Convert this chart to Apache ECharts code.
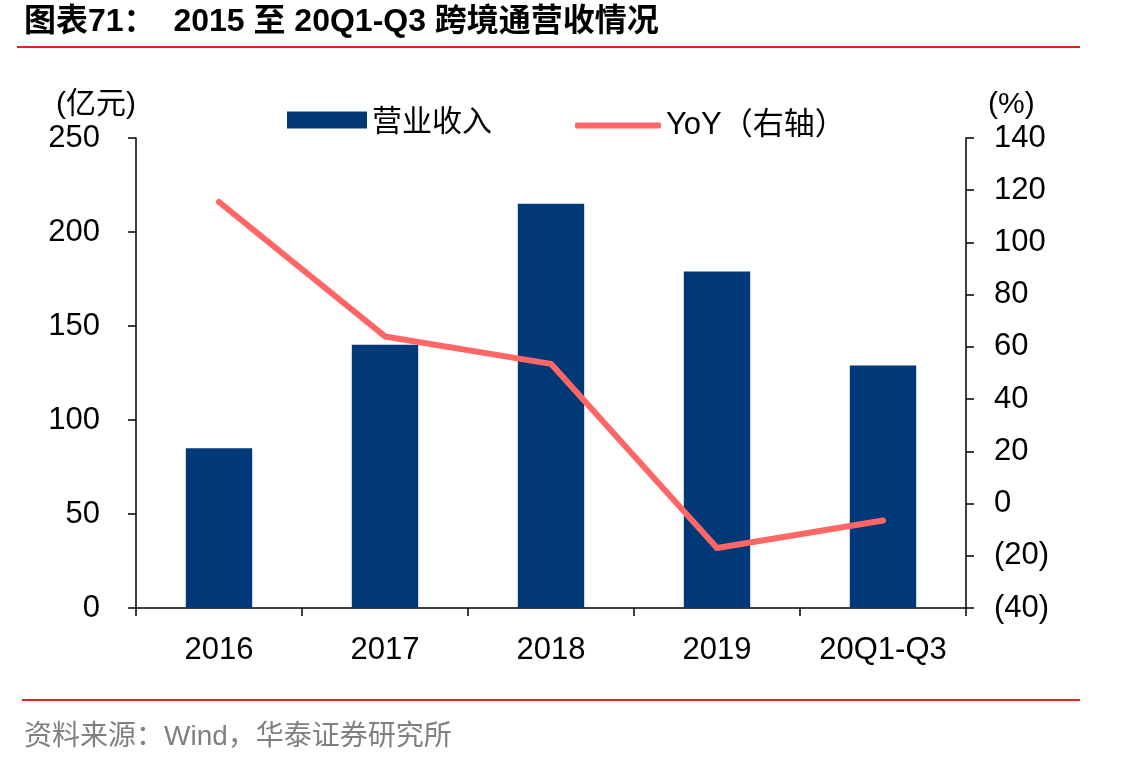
<!DOCTYPE html>
<html>
<head>
<meta charset="utf-8">
<script src="https://cdn.jsdelivr.net/npm/echarts@6/dist/echarts.min.js"></script>
<style>
  html, body { margin: 0; padding: 0; background: #fff; }
  #main { width: 1137px; height: 768px; }
</style>
</head>
<body>
<div id="main"></div>
<script>
// 数据
var categories = ['2016', '2017', '2018', '2019', '20Q1-Q3'];
var revenue = [85, 140, 215, 179, 129];      // 营业收入 (亿元)
var yoy = [115.5, 64, 53.5, -17, -6.5];       // YoY (%)

var font = "'Liberation Sans', Arial, 'Noto Sans CJK SC', sans-serif";
var navy = '#003878';
var salmon = '#FF6666';

var myChart = echarts.init(document.getElementById('main'));

var option = {
  backgroundColor: '#fff',
  animation: false,
  textStyle: { fontFamily: font },

  graphic: [
    { // title
      type: 'text', left: 24, top: 6,
      style: {
        text: '图表71：  2015 至 20Q1-Q3 跨境通营收情况',
        font: "bold 32px 'Liberation Sans', 'Noto Sans CJK SC', sans-serif",
        fill: '#000'
      }
    },
    { type: 'rect', shape: { x: 17, y: 46, width: 1063, height: 2 }, style: { fill: '#E8231C' } },
    { type: 'rect', shape: { x: 22, y: 699, width: 1058, height: 2 }, style: { fill: '#E8231C' } },
    { // source
      type: 'text', left: 24, top: 723,
      style: {
        text: '资料来源：Wind，华泰证券研究所',
        font: "28px 'Liberation Sans', 'Noto Sans CJK SC', sans-serif",
        fill: '#808080'
      }
    }
  ],

  legend: [
    {
      data: ['营业收入'],
      left: 282, top: 100,
      icon: 'rect',
      itemWidth: 80, itemHeight: 17,
      itemGap: 10,
      textStyle: { fontSize: 30, color: '#000', fontFamily: "'Noto Sans CJK SC', sans-serif" }
    },
    {
      data: [{ name: 'YoY（右轴）', icon: 'roundRect' }],
      left: 570, top: 105,
      itemWidth: 86, itemHeight: 6,
      textStyle: { fontSize: 31, color: '#000', fontFamily: "'Liberation Sans', 'Noto Sans CJK SC', sans-serif" }
    }
  ],

  grid: { left: 136, right: 171, top: 138, bottom: 160 },

  xAxis: {
    type: 'category',
    data: categories,
    axisLine: { lineStyle: { color: '#000', width: 1.5 } },
    axisTick: { show: true, inside: false, length: 8, lineStyle: { color: '#000', width: 1.5 } },
    axisLabel: { color: '#000', fontSize: 31, margin: 27 }
  },

  yAxis: [
    {
      type: 'value',
      min: 0, max: 250, interval: 50,
      name: '(亿元)',
      nameLocation: 'end',
      nameGap: 18,
      nameTextStyle: { color: '#000', fontSize: 30, align: 'right', fontFamily: font },
      axisLine: { show: true, lineStyle: { color: '#000', width: 1.5 } },
      axisTick: { show: true, length: 8, lineStyle: { color: '#000', width: 1.5 } },
      axisLabel: { color: '#000', fontSize: 31, margin: 36 },
      splitLine: { show: false }
    },
    {
      type: 'value',
      min: -40, max: 140, interval: 20,
      name: '(%)',
      nameLocation: 'end',
      nameGap: 18,
      nameTextStyle: { color: '#000', fontSize: 30, align: 'left', padding: [0, 0, 0, 22] },
      axisLine: { show: true, lineStyle: { color: '#000', width: 1.5 } },
      axisTick: { show: true, length: 8, lineStyle: { color: '#000', width: 1.5 } },
      axisLabel: {
        color: '#000', fontSize: 31, margin: 28,
        formatter: function (v) { return v < 0 ? '(' + (-v) + ')' : String(v); }
      },
      splitLine: { show: false }
    }
  ],

  series: [
    {
      name: '营业收入',
      type: 'bar',
      yAxisIndex: 0,
      barWidth: '40%',
      itemStyle: { color: navy },
      data: revenue
    },
    {
      name: 'YoY（右轴）',
      type: 'line',
      yAxisIndex: 1,
      symbol: 'none',
      lineStyle: { color: salmon, width: 6, cap: 'round', join: 'round' },
      itemStyle: { color: salmon },
      data: yoy
    }
  ]
};

myChart.setOption(option);
</script>
</body>
</html>
